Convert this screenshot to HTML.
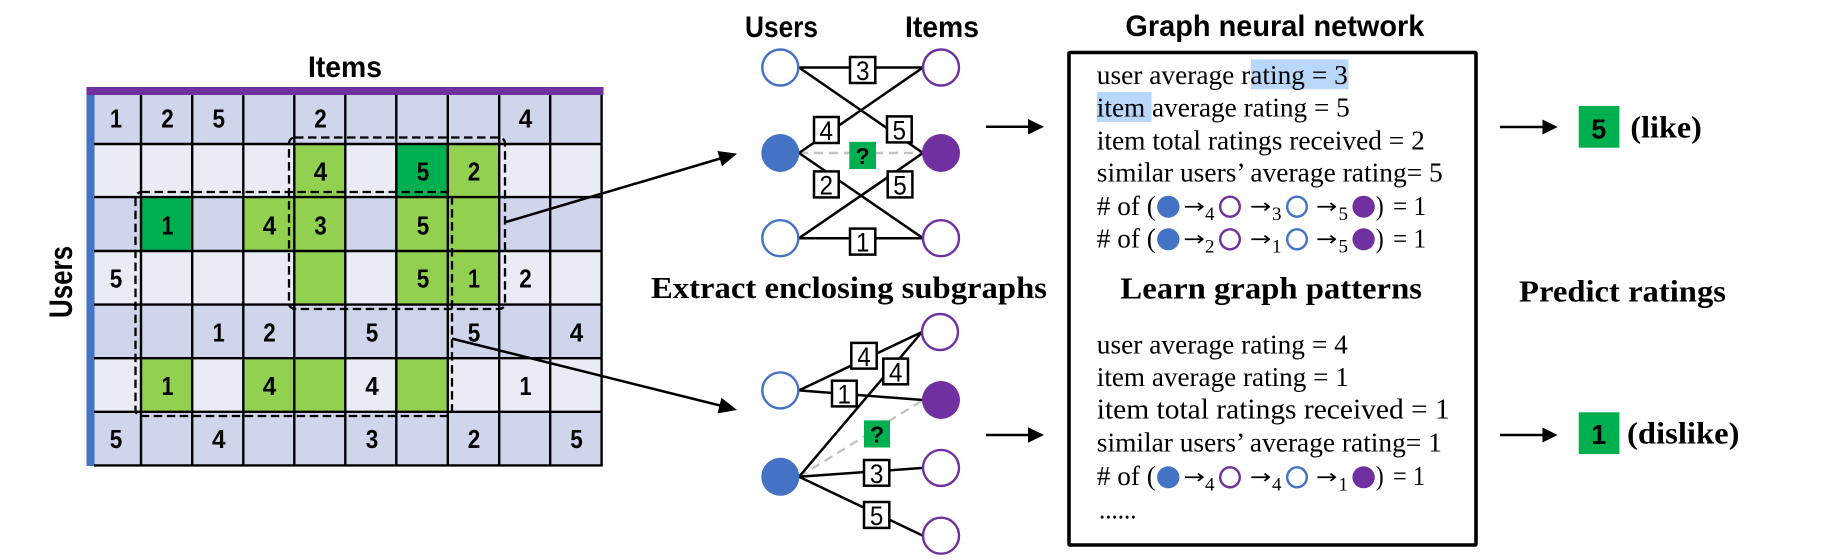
<!DOCTYPE html>
<html>
<head>
<meta charset="utf-8">
<style>
html,body{margin:0;padding:0;background:#fff;}
svg{display:block;}
.d{font:bold 26px "Liberation Sans",sans-serif;text-anchor:middle;fill:#000;}
.n{font:27px "Liberation Sans",sans-serif;text-anchor:middle;fill:#000;}
.h{font:bold 30px "Liberation Sans",sans-serif;fill:#000;}
.s{font:bold 31px "Liberation Serif",serif;fill:#000;}
.t{font:27px "Liberation Serif",serif;fill:#000;}
.u{font:19px "Liberation Serif",serif;fill:#000;}
.a{font:20px "DejaVu Sans",sans-serif;fill:#000;}
.l{stroke:#000;stroke-width:2.5;fill:none;}
.b{fill:#fff;stroke:#000;stroke-width:2.5;}
.ur{fill:#fff;stroke:#4472C4;stroke-width:2.4;}
.ir{fill:#fff;stroke:#7030A0;stroke-width:2.4;}
.uf{fill:#4472C4;}
.if{fill:#7030A0;}
.g{stroke:#c4c4c4;stroke-width:2.4;stroke-dasharray:9 6;fill:none;}
.dash{fill:none;stroke:#000;stroke-width:2.3;stroke-dasharray:8.5 4.5;}
</style>
</head>
<body>
<svg width="1828" height="560" viewBox="0 0 1828 560" xmlns="http://www.w3.org/2000/svg">
<rect width="1828" height="560" fill="#fff"/>

<!-- Matrix rows -->
<rect x="94" y="95" width="508" height="49" fill="#CFD5EA"/>
<rect x="94" y="144" width="508" height="53" fill="#E9EBF5"/>
<rect x="94" y="197" width="508" height="54" fill="#CFD5EA"/>
<rect x="94" y="251" width="508" height="54" fill="#E9EBF5"/>
<rect x="94" y="305" width="508" height="53" fill="#CFD5EA"/>
<rect x="94" y="358" width="508" height="54" fill="#E9EBF5"/>
<rect x="94" y="412" width="508" height="54" fill="#CFD5EA"/>

<!-- Green cells -->
<g fill="#92D050">
<rect x="294.3" y="144" width="51" height="53"/>
<rect x="447.8" y="144" width="51.4" height="53"/>
<rect x="243.3" y="197" width="51" height="54"/>
<rect x="294.3" y="197" width="51" height="54"/>
<rect x="396.3" y="197" width="51.5" height="54"/>
<rect x="447.8" y="197" width="51.4" height="54"/>
<rect x="294.3" y="251" width="51" height="54"/>
<rect x="396.3" y="251" width="51.5" height="54"/>
<rect x="447.8" y="251" width="51.4" height="54"/>
<rect x="141" y="358" width="51.2" height="54"/>
<rect x="243.3" y="358" width="51" height="54"/>
<rect x="294.3" y="358" width="51" height="54"/>
<rect x="396.3" y="358" width="51.5" height="54"/>
</g>
<rect x="396.3" y="144" width="51.5" height="53" fill="#00B050"/>
<rect x="141" y="197" width="51.2" height="54" fill="#00B050"/>

<!-- Bars -->
<rect x="86.5" y="87" width="517" height="8" fill="#7030A0"/>
<rect x="86.5" y="95" width="8" height="371" fill="#4472C4"/>

<!-- Grid lines -->
<g stroke="#000" stroke-width="2.4">
<line x1="94" x2="602.5" y1="144" y2="144"/>
<line x1="94" x2="602.5" y1="197.1" y2="197.1"/>
<line x1="94" x2="602.5" y1="251" y2="251"/>
<line x1="94" x2="602.5" y1="304.6" y2="304.6"/>
<line x1="94" x2="602.5" y1="358.2" y2="358.2"/>
<line x1="94" x2="602.5" y1="411.8" y2="411.8"/>
<line x1="94" x2="602.5" y1="465.4" y2="465.4"/>
<line x1="141" x2="141" y1="95" y2="466"/>
<line x1="192.2" x2="192.2" y1="95" y2="466"/>
<line x1="243.3" x2="243.3" y1="95" y2="466"/>
<line x1="294.3" x2="294.3" y1="95" y2="466"/>
<line x1="345.3" x2="345.3" y1="95" y2="466"/>
<line x1="396.3" x2="396.3" y1="95" y2="466"/>
<line x1="447.8" x2="447.8" y1="95" y2="466"/>
<line x1="499.2" x2="499.2" y1="95" y2="466"/>
<line x1="550.2" x2="550.2" y1="95" y2="466"/>
<line x1="601.6" x2="601.6" y1="95" y2="466"/>
</g>

<!-- Matrix numbers -->
<g>
<text class="d" textLength="12" lengthAdjust="spacingAndGlyphs" x="116" y="127.5">1</text>
<text class="d" textLength="12.5" lengthAdjust="spacingAndGlyphs" x="167.5" y="127.5">2</text>
<text class="d" textLength="12.5" lengthAdjust="spacingAndGlyphs" x="218.8" y="127.5">5</text>
<text class="d" textLength="12.5" lengthAdjust="spacingAndGlyphs" x="320.5" y="127.5">2</text>
<text class="d" textLength="13.5" lengthAdjust="spacingAndGlyphs" x="525.5" y="127.5">4</text>

<text class="d" textLength="13.5" lengthAdjust="spacingAndGlyphs" x="320.5" y="180.5">4</text>
<text class="d" textLength="12.5" lengthAdjust="spacingAndGlyphs" x="423" y="180.5">5</text>
<text class="d" textLength="12.5" lengthAdjust="spacingAndGlyphs" x="474" y="180.5">2</text>

<text class="d" textLength="12" lengthAdjust="spacingAndGlyphs" x="167.5" y="234.5">1</text>
<text class="d" textLength="13.5" lengthAdjust="spacingAndGlyphs" x="269.5" y="234.5">4</text>
<text class="d" textLength="12.5" lengthAdjust="spacingAndGlyphs" x="320.5" y="234.5">3</text>
<text class="d" textLength="12.5" lengthAdjust="spacingAndGlyphs" x="423" y="234.5">5</text>

<text class="d" textLength="12.5" lengthAdjust="spacingAndGlyphs" x="116" y="287.5">5</text>
<text class="d" textLength="12.5" lengthAdjust="spacingAndGlyphs" x="423" y="287.5">5</text>
<text class="d" textLength="12" lengthAdjust="spacingAndGlyphs" x="474" y="287.5">1</text>
<text class="d" textLength="12.5" lengthAdjust="spacingAndGlyphs" x="525.5" y="287.5">2</text>

<text class="d" textLength="12" lengthAdjust="spacingAndGlyphs" x="218.8" y="341.5">1</text>
<text class="d" textLength="12.5" lengthAdjust="spacingAndGlyphs" x="269.5" y="341.5">2</text>
<text class="d" textLength="12.5" lengthAdjust="spacingAndGlyphs" x="372" y="341.5">5</text>
<text class="d" textLength="12.5" lengthAdjust="spacingAndGlyphs" x="474" y="341.5">5</text>
<text class="d" textLength="13.5" lengthAdjust="spacingAndGlyphs" x="576.5" y="341.5">4</text>

<text class="d" textLength="12" lengthAdjust="spacingAndGlyphs" x="167.5" y="395">1</text>
<text class="d" textLength="13.5" lengthAdjust="spacingAndGlyphs" x="269.5" y="395">4</text>
<text class="d" textLength="13.5" lengthAdjust="spacingAndGlyphs" x="372" y="395">4</text>
<text class="d" textLength="12" lengthAdjust="spacingAndGlyphs" x="525.5" y="395">1</text>

<text class="d" textLength="12.5" lengthAdjust="spacingAndGlyphs" x="116" y="448">5</text>
<text class="d" textLength="13.5" lengthAdjust="spacingAndGlyphs" x="218.8" y="448">4</text>
<text class="d" textLength="12.5" lengthAdjust="spacingAndGlyphs" x="372" y="448">3</text>
<text class="d" textLength="12.5" lengthAdjust="spacingAndGlyphs" x="474" y="448">2</text>
<text class="d" textLength="12.5" lengthAdjust="spacingAndGlyphs" x="576.5" y="448">5</text>
</g>

<!-- Dashed enclosures -->
<rect class="dash" x="289" y="137.5" width="216" height="171.5" rx="6"/>
<rect class="dash" x="135.5" y="192" width="316.5" height="224" rx="6"/>

<!-- Matrix titles -->
<text class="h" x="308" y="76.8" textLength="74" lengthAdjust="spacingAndGlyphs">Items</text>
<text class="h" transform="translate(72,318) rotate(-90)" x="0" y="0" textLength="72" lengthAdjust="spacingAndGlyphs" style="font-size:32px">Users</text>

<!-- Connecting arrows -->
<line class="l" x1="506" y1="222" x2="722" y2="158"/>
<polygon points="737,153.6 722,166.4 717.4,151"/>
<line class="l" x1="452" y1="338.6" x2="722" y2="406"/>
<polygon points="737,410 717.6,413.4 721.4,397.8"/>

<!-- Top subgraph -->
<text class="h" x="745" y="36.8" textLength="73" lengthAdjust="spacingAndGlyphs">Users</text>
<text class="h" x="905" y="36.8" textLength="74" lengthAdjust="spacingAndGlyphs">Items</text>
<line class="g" x1="799" y1="153" x2="923" y2="153"/>
<g class="l">
<line x1="799" y1="67.5" x2="923" y2="67.5"/>
<line x1="799" y1="67.5" x2="923" y2="153"/>
<line x1="923" y1="67.5" x2="799" y2="153"/>
<line x1="799" y1="153" x2="923" y2="238.2"/>
<line x1="923" y1="153" x2="799" y2="238.2"/>
<line x1="799" y1="238.2" x2="923" y2="238.2"/>
</g>
<circle class="ur" cx="780.3" cy="67.5" r="18"/>
<circle class="ir" cx="941" cy="67.5" r="18"/>
<circle class="uf" cx="780.3" cy="153" r="19"/>
<circle class="if" cx="941" cy="153" r="19"/>
<circle class="ur" cx="780.3" cy="238.2" r="18"/>
<circle class="ir" cx="941" cy="238.2" r="18"/>

<rect class="b" x="850" y="57" width="25.3" height="26"/><text class="n" x="862.7" y="80" textLength="13.5" lengthAdjust="spacingAndGlyphs">3</text>
<rect class="b" x="814" y="117" width="24.7" height="26"/><text class="n" x="826.3" y="140" textLength="13.5" lengthAdjust="spacingAndGlyphs">4</text>
<rect class="b" x="887" y="116.4" width="24.7" height="26"/><text class="n" x="899.3" y="139.4" textLength="13.5" lengthAdjust="spacingAndGlyphs">5</text>
<rect class="b" x="814" y="171.4" width="24.7" height="26"/><text class="n" x="826.3" y="194.4" textLength="13.5" lengthAdjust="spacingAndGlyphs">2</text>
<rect class="b" x="887.7" y="171.4" width="24.7" height="26"/><text class="n" x="900" y="194.4" textLength="13.5" lengthAdjust="spacingAndGlyphs">5</text>
<rect class="b" x="850" y="228.6" width="25.3" height="26"/><text class="n" x="862.7" y="251.6" textLength="13.5" lengthAdjust="spacingAndGlyphs">1</text>
<rect x="849.3" y="141.8" width="26.7" height="27.2" fill="#00B050"/>
<text class="d" x="862.7" y="164" style="font-size:23px">?</text>

<text class="s" x="651" y="298" textLength="396" lengthAdjust="spacingAndGlyphs">Extract enclosing subgraphs</text>

<!-- Bottom subgraph -->
<line class="g" x1="799" y1="476.8" x2="923" y2="400"/>
<g class="l">
<line x1="799" y1="390.4" x2="922" y2="332"/>
<line x1="799" y1="390.4" x2="923" y2="400"/>
<line x1="799" y1="476.8" x2="922" y2="332"/>
<line x1="799" y1="476.8" x2="923" y2="467.9"/>
<line x1="799" y1="476.8" x2="923" y2="535.7"/>
</g>
<circle class="ir" cx="940" cy="332" r="18"/>
<circle class="if" cx="941" cy="400" r="19"/>
<circle class="ir" cx="941" cy="467.9" r="18"/>
<circle class="ir" cx="941" cy="535.7" r="18"/>
<circle class="ur" cx="780.3" cy="390.4" r="18"/>
<circle class="uf" cx="780.3" cy="476.8" r="19"/>

<rect class="b" x="851.3" y="342.9" width="25.4" height="25.7"/><text class="n" x="864" y="365.8" textLength="13.5" lengthAdjust="spacingAndGlyphs">4</text>
<rect class="b" x="883.3" y="358.6" width="24.7" height="25.7"/><text class="n" x="895.7" y="381.5" textLength="13.5" lengthAdjust="spacingAndGlyphs">4</text>
<rect class="b" x="832" y="380.7" width="24.7" height="25.7"/><text class="n" x="844.3" y="403.6" textLength="13.5" lengthAdjust="spacingAndGlyphs">1</text>
<rect x="864" y="420.4" width="26" height="27.1" fill="#00B050"/>
<text class="d" x="877" y="442.5" style="font-size:23px">?</text>
<rect class="b" x="864" y="460" width="25.3" height="25.7"/><text class="n" x="876.6" y="482.9" textLength="13.5" lengthAdjust="spacingAndGlyphs">3</text>
<rect class="b" x="864" y="502" width="25.3" height="25.9"/><text class="n" x="876.6" y="525" textLength="13.5" lengthAdjust="spacingAndGlyphs">5</text>

<!-- Mid arrows -->
<line class="l" x1="986" y1="126.8" x2="1030" y2="126.8"/>
<polygon points="1044,126.8 1028,119 1028,134.6"/>
<line class="l" x1="986" y1="435" x2="1030" y2="435"/>
<polygon points="1044,435 1028,427.2 1028,442.8"/>

<!-- GNN box -->
<text class="h" x="1125.4" y="36" textLength="299" lengthAdjust="spacingAndGlyphs">Graph neural network</text>
<rect x="1069" y="52.5" width="407" height="492.5" fill="#fff" stroke="#000" stroke-width="3.6" rx="1"/>

<rect x="1251" y="59.3" width="97.5" height="30" fill="#B8D7FB"/>
<rect x="1096.8" y="92" width="54.8" height="30" fill="#B8D7FB"/>

<text class="t" x="1096.8" y="84" textLength="251" lengthAdjust="spacingAndGlyphs">user average rating = 3</text>
<text class="t" x="1096.8" y="116.7" textLength="253" lengthAdjust="spacingAndGlyphs">item average rating = 5</text>
<text class="t" x="1096.8" y="149.3" textLength="328" lengthAdjust="spacingAndGlyphs">item total ratings received = 2</text>
<text class="t" x="1096.8" y="181.7" textLength="346" lengthAdjust="spacingAndGlyphs">similar users’ average rating= 5</text>

<!-- Path line 1 -->
<text class="t" x="1096.8" y="215" textLength="59" lengthAdjust="spacingAndGlyphs"># of (</text>
<ellipse class="uf" cx="1168.3" cy="206.7" rx="11.2" ry="11"/>
<text class="a" x="1183.5" y="213" textLength="21.5" lengthAdjust="spacingAndGlyphs">→</text>
<text class="u" x="1205" y="220">4</text>
<ellipse class="ir" cx="1230" cy="206.7" rx="9.8" ry="10"/>
<text class="a" x="1250" y="213" textLength="21.5" lengthAdjust="spacingAndGlyphs">→</text>
<text class="u" x="1272" y="220">3</text>
<ellipse class="ur" cx="1297" cy="206.7" rx="9.8" ry="10"/>
<text class="a" x="1316" y="213" textLength="21.5" lengthAdjust="spacingAndGlyphs">→</text>
<text class="u" x="1338.5" y="220">5</text>
<ellipse class="if" cx="1363.6" cy="206.7" rx="11.2" ry="11"/>
<text class="t" x="1375.7" y="215" textLength="8" lengthAdjust="spacingAndGlyphs">)</text>
<text class="t" x="1393" y="215" textLength="33" lengthAdjust="spacingAndGlyphs">= 1</text>

<!-- Path line 2 -->
<text class="t" x="1096.8" y="247.3" textLength="59" lengthAdjust="spacingAndGlyphs"># of (</text>
<ellipse class="uf" cx="1168.3" cy="239.3" rx="11.2" ry="11"/>
<text class="a" x="1183.5" y="245.6" textLength="21.5" lengthAdjust="spacingAndGlyphs">→</text>
<text class="u" x="1205" y="252.3">2</text>
<ellipse class="ir" cx="1230" cy="239.3" rx="9.8" ry="10"/>
<text class="a" x="1250" y="245.6" textLength="21.5" lengthAdjust="spacingAndGlyphs">→</text>
<text class="u" x="1272" y="252.3">1</text>
<ellipse class="ur" cx="1297" cy="239.3" rx="9.8" ry="10"/>
<text class="a" x="1316" y="245.6" textLength="21.5" lengthAdjust="spacingAndGlyphs">→</text>
<text class="u" x="1338.5" y="252.3">5</text>
<ellipse class="if" cx="1363.6" cy="239.3" rx="11.2" ry="11"/>
<text class="t" x="1375.7" y="247.3" textLength="8" lengthAdjust="spacingAndGlyphs">)</text>
<text class="t" x="1393" y="247.3" textLength="33" lengthAdjust="spacingAndGlyphs">= 1</text>

<text class="s" x="1120.4" y="298.3" textLength="301.6" lengthAdjust="spacingAndGlyphs">Learn graph patterns</text>

<text class="t" x="1096.8" y="353.3" textLength="251" lengthAdjust="spacingAndGlyphs">user average rating = 4</text>
<text class="t" x="1096.8" y="386" textLength="252" lengthAdjust="spacingAndGlyphs">item average rating = 1</text>
<text class="t" x="1096.8" y="418.7" textLength="353" lengthAdjust="spacingAndGlyphs" style="font-size:29px">item total ratings received = 1</text>
<text class="t" x="1096.8" y="451.7" textLength="345" lengthAdjust="spacingAndGlyphs">similar users’ average rating= 1</text>

<!-- Path line 3 -->
<text class="t" x="1096.8" y="485" textLength="59" lengthAdjust="spacingAndGlyphs"># of (</text>
<ellipse class="uf" cx="1168.3" cy="477.3" rx="11.2" ry="11"/>
<text class="a" x="1183.5" y="483.6" textLength="21.5" lengthAdjust="spacingAndGlyphs">→</text>
<text class="u" x="1205" y="490.5">4</text>
<ellipse class="ir" cx="1230" cy="477.3" rx="9.8" ry="10"/>
<text class="a" x="1250" y="483.6" textLength="21.5" lengthAdjust="spacingAndGlyphs">→</text>
<text class="u" x="1272" y="490.5">4</text>
<ellipse class="ur" cx="1297" cy="477.3" rx="9.8" ry="10"/>
<text class="a" x="1316" y="483.6" textLength="21.5" lengthAdjust="spacingAndGlyphs">→</text>
<text class="u" x="1338.5" y="490.5">1</text>
<ellipse class="if" cx="1363.6" cy="477.3" rx="11.2" ry="11"/>
<text class="t" x="1375.7" y="485" textLength="8" lengthAdjust="spacingAndGlyphs">)</text>
<text class="t" x="1393" y="485" textLength="32" lengthAdjust="spacingAndGlyphs">= 1</text>

<text class="t" x="1099" y="518.7" textLength="37.5" lengthAdjust="spacingAndGlyphs">......</text>

<!-- Output arrows -->
<line class="l" x1="1500" y1="127" x2="1545" y2="127"/>
<polygon points="1557.6,127 1542.5,119.5 1542.5,134.5"/>
<line class="l" x1="1500" y1="435" x2="1545" y2="435"/>
<polygon points="1557.6,435 1542.5,427.5 1542.5,442.5"/>

<rect x="1578.7" y="106" width="40.7" height="41.7" fill="#00B050"/>
<text class="d" x="1598.8" y="138.3" style="font-size:28px" textLength="15" lengthAdjust="spacingAndGlyphs">5</text>
<text class="s" x="1630.4" y="137.3" textLength="71.4" lengthAdjust="spacingAndGlyphs">(like)</text>

<text class="s" x="1519" y="301.7" textLength="207" lengthAdjust="spacingAndGlyphs">Predict ratings</text>

<rect x="1578.7" y="412.3" width="40.7" height="41.7" fill="#00B050"/>
<text class="d" x="1598.8" y="444" style="font-size:28px" textLength="15" lengthAdjust="spacingAndGlyphs">1</text>
<text class="s" x="1627" y="443.3" textLength="112.5" lengthAdjust="spacingAndGlyphs">(dislike)</text>
</svg>
</body>
</html>
